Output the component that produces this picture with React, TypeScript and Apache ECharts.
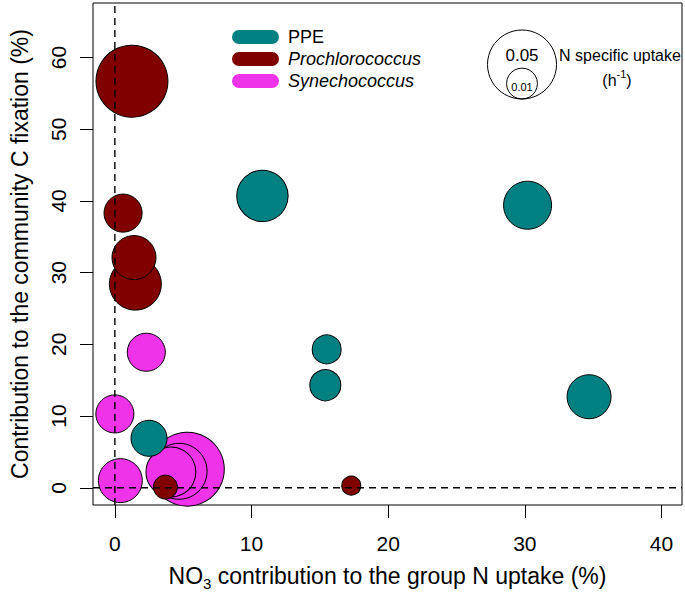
import React, { useEffect, useRef } from "react";
import * as echarts from "echarts";

// Tick values
const xTicks = [0, 10, 20, 30, 40];
const yTicks = [0, 10, 20, 30, 40, 50, 60];

// PPE
const ppeX = [10.8, 30.2, 34.7, 2.5, 15.4, 15.5];
const ppeY = [40.7, 39.4, 12.7, 6.9, 14.3, 19.3];
const ppeU = [0.0277, 0.0242, 0.0203, 0.0136, 0.0101, 0.0088];

// Prochlorococcus
const proX = [1.25, 1.5, 1.4, 0.6, 3.7, 17.3];
const proY = [56.7, 28.4, 32.1, 38.3, 0.1, 0.3];
const proU = [0.0544, 0.0284, 0.0203, 0.0152, 0.006, 0.0038];

// Synechococcus
const synX = [5.3, 4.7, 4.1, 0.4, 0.0, 2.3];
const synY = [2.6, 2.3, 2.2, 1.0, 10.3, 18.9];
const synU = [0.0575, 0.0329, 0.0262, 0.0203, 0.0152, 0.0152];

// Size legend values
const sizeLegend = [0.05, 0.01];

const X_MIN = -1.6;
const X_MAX = 41.5;
const Y_MIN = -2.4;
const Y_MAX = 67.6;

const K = 154.3;
const radius = (u: number) => K * Math.sqrt(u);

const FONT = "'Liberation Sans', Arial, sans-serif";
const COL_PPE = "#008080";
const COL_PRO = "#800000";
const COL_SYN = "#EE33E8";

const zip = (xs: number[], ys: number[], us: number[]) =>
  xs.map((x, i) => [x, ys[i], us[i]]);

export default function App() {
  const ref = useRef<HTMLDivElement>(null);
  useEffect(() => {
    if (!ref.current) return;
    const chart = echarts.init(ref.current, null, { renderer: "svg" });
    const bubble = (name: string, color: string, data: number[][]) => ({
      name,
      type: "scatter",
      data,
      symbol: "circle",
      symbolSize: (v: number[]) => 2 * radius(v[2]),
      itemStyle: { color, borderColor: "#000", borderWidth: 1, opacity: 1 },
      emphasis: { disabled: true },
      z: 2,
    });
    const rBig = radius(sizeLegend[0]);
    const rSmall = radius(sizeLegend[1]);
    const cx = 522;
    const bottom = 99;
    chart.setOption({
      animation: false,
      textStyle: { fontFamily: FONT },
      grid: {
        left: 90,
        right: 3,
        top: 3,
        bottom: 85,
        show: true,
        borderColor: "#000",
        borderWidth: 1,
        containLabel: false,
      },
      xAxis: {
        type: "value",
        min: X_MIN,
        max: X_MAX,
        splitLine: { show: false },
        axisLine: { show: false, onZero: false },
        axisTick: { show: true, inside: false, length: 13, customValues: xTicks, lineStyle: { color: "#000" } },
        axisLabel: {
          customValues: xTicks,
          fontSize: 21,
          color: "#000",
          margin: 28,
          fontFamily: FONT,
        },
        name: "{n|NO}{s|3}{n| contribution to the group N uptake (%)}",
        nameLocation: "middle",
        nameGap: 54,
        nameTextStyle: {
          fontFamily: FONT,
          color: "#000",
          rich: {
            n: { fontSize: 23, fontFamily: FONT, color: "#000", lineHeight: 28, verticalAlign: "bottom" },
            s: { fontSize: 15, fontFamily: FONT, color: "#000", lineHeight: 28, verticalAlign: "bottom", padding: [0, 0, -4, 0] },
          },
        },
      },
      yAxis: {
        type: "value",
        min: Y_MIN,
        max: Y_MAX,
        splitLine: { show: false },
        axisLine: { show: false, onZero: false },
        axisTick: { show: true, inside: false, length: 13, customValues: yTicks, lineStyle: { color: "#000" } },
        axisLabel: {
          customValues: yTicks,
          fontSize: 21,
          color: "#000",
          rotate: 90,
          margin: 24,
          fontFamily: FONT,
        },
        name: "Contribution to the community C fixation (%)",
        nameLocation: "middle",
        nameGap: 62,
        nameRotate: 90,
        nameTextStyle: { fontSize: 23, color: "#000", fontFamily: FONT },
      },
      legend: {
        orient: "vertical",
        left: 232,
        top: 28,
        padding: 0,
        itemWidth: 47,
        itemHeight: 15,
        itemGap: 4,
        icon: "path://M7,0 H40 A7,7 0 0 1 40,14 H7 A7,7 0 0 1 7,0 Z",
        itemStyle: { borderWidth: 0 },
        data: ["PPE", "Prochlorococcus", "Synechococcus"],
        formatter: (name: string) => (name === "PPE" ? name : `{i|${name}}`),
        textStyle: {
          fontSize: 18,
          color: "#000",
          fontFamily: FONT,
          lineHeight: 18,
          padding: [0, 0, 0, 4],
          rich: { i: { fontStyle: "italic", fontSize: 18, color: "#000", fontFamily: FONT } },
        },
      },
      graphic: [
        {
          type: "circle",
          shape: { cx, cy: bottom - rBig, r: rBig },
          style: { fill: "none", stroke: "#000", lineWidth: 1 },
        },
        {
          type: "circle",
          shape: { cx, cy: bottom - rSmall, r: rSmall },
          style: { fill: "none", stroke: "#000", lineWidth: 1 },
        },
        {
          type: "text",
          x: cx,
          y: 55,
          style: { text: String(sizeLegend[0].toFixed(2)), fontSize: 17, fontFamily: FONT, fill: "#000", align: "center", verticalAlign: "middle" },
        },
        {
          type: "text",
          x: cx,
          y: 87,
          style: { text: String(sizeLegend[1].toFixed(2)), fontSize: 11, fontFamily: FONT, fill: "#000", align: "center", verticalAlign: "middle" },
        },
        {
          type: "text",
          x: 620,
          y: 55,
          style: { text: "N specific uptake", fontSize: 16, fontFamily: FONT, fill: "#000", align: "center", verticalAlign: "middle" },
        },
        {
          type: "text",
          x: 617,
          y: 78,
          style: {
            text: "{a|(h}{b|-1}{a|)}",
            align: "center",
            verticalAlign: "middle",
            rich: {
              a: { fontSize: 16, fontFamily: FONT, fill: "#000", lineHeight: 20, verticalAlign: "bottom" },
              b: { fontSize: 11, fontFamily: FONT, fill: "#000", lineHeight: 20, verticalAlign: "top" },
            },
          },
        },
      ],
      series: [
        bubble("Synechococcus", COL_SYN, zip(synX, synY, synU)),
        bubble("PPE", COL_PPE, zip(ppeX, ppeY, ppeU)),
        bubble("Prochlorococcus", COL_PRO, zip(proX, proY, proU)),
        {
          name: "vline",
          type: "line",
          data: [[0, Y_MIN], [0, Y_MAX]],
          symbol: "none",
          silent: true,
          lineStyle: { color: "#000", width: 1.4, type: [7, 5] },
          z: 10,
        },
        {
          name: "hline",
          type: "line",
          data: [[X_MIN, 0], [X_MAX, 0]],
          symbol: "none",
          silent: true,
          lineStyle: { color: "#000", width: 1.4, type: [7, 5] },
          z: 10,
        },
      ],
    });
    return () => chart.dispose();
  }, []);
  return <div ref={ref} style={{ width: 685, height: 596, position: "absolute", left: 0, top: 0 }} />;
}
